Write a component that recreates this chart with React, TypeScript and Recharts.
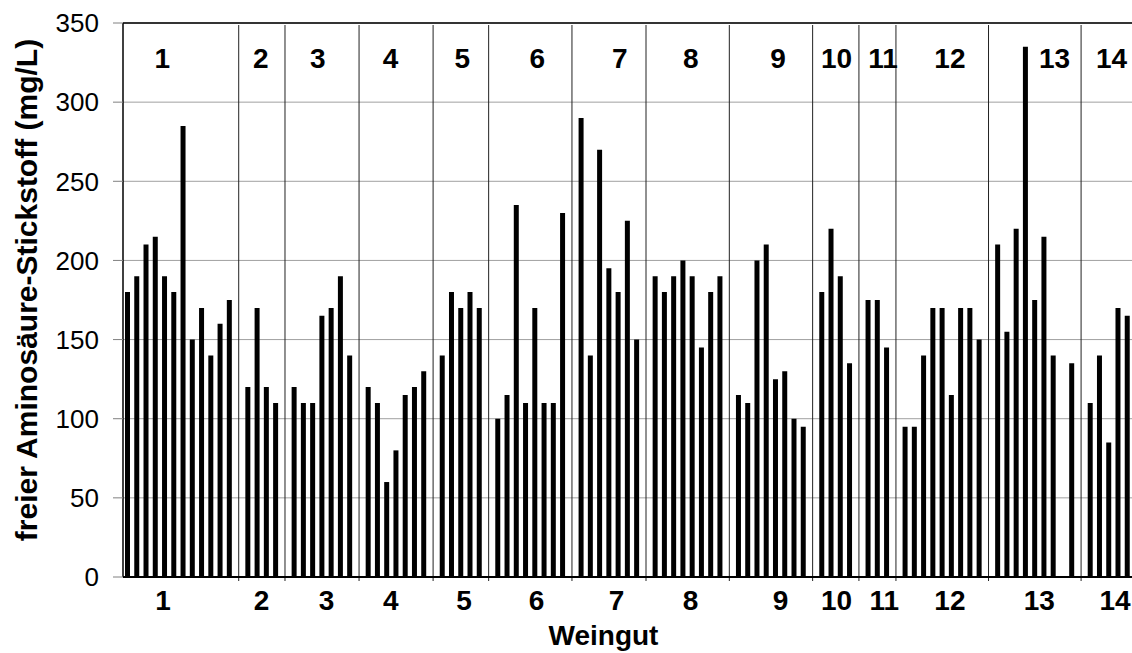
import React from 'react';
import { BarChart, Bar, XAxis, YAxis, CartesianGrid, ReferenceLine, Label } from 'recharts';

// Values per Weingut (free amino nitrogen, mg/L)
const weingut1 = [180, 190, 210, 215, 190, 180, 285, 150, 170, 140, 160, 175];
const weingut2 = [120, 170, 120, 110];
const weingut3 = [120, 110, 110, 165, 170, 190, 140];
const weingut4 = [120, 110, 60, 80, 115, 120, 130];
const weingut5 = [140, 180, 170, 180, 170];
const weingut6 = [100, 115, 235, 110, 170, 110, 110, 230];
const weingut7 = [290, 140, 270, 195, 180, 225, 150];
const weingut8 = [190, 180, 190, 200, 190, 145, 180, 190];
const weingut9 = [115, 110, 200, 210, 125, 130, 100, 95];
const weingut10 = [180, 220, 190, 135];
const weingut11 = [175, 175, 145];
const weingut12 = [95, 95, 140, 170, 170, 115, 170, 170, 150];
const weingut13: (number | null)[] = [210, 155, 220, 335, 175, 215, 140, null, 135];
const weingut14 = [110, 140, 85, 170, 165];

const groups: (number | null)[][] = [
  weingut1, weingut2, weingut3, weingut4, weingut5, weingut6, weingut7,
  weingut8, weingut9, weingut10, weingut11, weingut12, weingut13, weingut14,
];
const groupLabels = ['1', '2', '3', '4', '5', '6', '7', '8', '9', '10', '11', '12', '13', '14'];

// label positions on the slot axis (slot index units)
const bottomLabelPos = [3.82, 14.46, 21.48, 28.43, 36.35, 44.17, 52.82, 60.81, 70.54, 76.59, 81.74, 88.83, 98.48, 106.66];
const topLabelPos = [3.74, 14.38, 20.54, 28.4, 36.15, 44.26, 53.17, 60.85, 70.25, 76.59, 81.6, 88.83, 100.13, 106.3];
const yTicks = [0, 50, 100, 150, 200, 250, 300, 350];

const data: { idx: number; value: number | null }[] = [];
const separators: number[] = [];
{
  let idx = 0;
  groups.forEach((g, gi) => {
    g.forEach((v) => {
      data.push({ idx, value: v });
      idx++;
    });
    if (gi < groups.length - 1) {
      separators.push(idx);
      idx++;
    }
  });
}
const lastIdx = data[data.length - 1].idx;

const FONT = 'Liberation Sans, Arial, Helvetica, sans-serif';

const BottomTick = (props: any) => {
  const { x, y, index } = props;
  return (
    <text x={x} y={y + 33} textAnchor="middle" fontFamily={FONT} fontSize={28} fontWeight="bold" fill="#000">
      {groupLabels[index]}
    </text>
  );
};

const SepLine = (props: any) => {
  const { x1, x2, y1, y2 } = props;
  const top = Math.min(y1, y2);
  const bot = Math.max(y1, y2);
  return <line x1={x1} x2={x2} y1={top + 2} y2={bot + 4} stroke="#222" strokeWidth={1} />;
};

export default function App() {
  return (
    <div style={{ position: 'absolute', left: 0, top: 0, background: '#fff' }}>
      <BarChart width={1132} height={653} data={data} margin={{ top: 23, right: 0, bottom: 0, left: 0 }}>
        <CartesianGrid horizontal vertical={false} stroke="#a0a0a0" strokeWidth={1} />
        <XAxis
          type="number"
          dataKey="idx"
          domain={[-0.5, lastIdx + 0.5]}
          ticks={bottomLabelPos}
          interval={0}
          tickLine={false}
          tickSize={0}
          tickMargin={0}
          height={76}
          axisLine={{ stroke: '#000', strokeWidth: 2 }}
          tick={<BottomTick />}
        >
          <Label
            content={(p: any) => {
              const vb = p.viewBox;
              return (
                <text x={vb.x + vb.width / 2 - 24} y={vb.y + 68} textAnchor="middle" fontFamily={FONT} fontSize={28} fontWeight="bold" fill="#000">
                  Weingut
                </text>
              );
            }}
          />
        </XAxis>
        <YAxis
          type="number"
          domain={[0, 350]}
          ticks={yTicks}
          interval={0}
          width={123}
          tickSize={10}
          tickMargin={14}
          tickLine={{ stroke: '#808080' }}
          axisLine={{ stroke: '#000', strokeWidth: 1.5 }}
          tick={{ fontFamily: FONT, fontSize: 26, fill: '#000' }}
        >
          <Label
            content={(p: any) => {
              const vb = p.viewBox;
              const cx = vb.x + 37;
              const cy = vb.y + vb.height / 2 - 10;
              return (
                <text x={cx} y={cy} transform={`rotate(-90 ${cx} ${cy})`} textAnchor="middle" fontFamily={FONT} fontSize={30} fontWeight="bold" fill="#000">
                  freier Aminosäure-Stickstoff (mg/L)
                </text>
              );
            }}
          />
        </YAxis>
        <ReferenceLine y={350} stroke="#000" strokeWidth={1.5} />
        {separators.map((s) => (
          <ReferenceLine key={'sep' + s} x={s} shape={<SepLine />} />
        ))}
        {topLabelPos.map((p, i) => (
          <ReferenceLine
            key={'top' + i}
            x={p}
            stroke="none"
            label={{ value: groupLabels[i], position: 'insideTop', offset: 25, fontSize: 28, fontWeight: 'bold', fill: '#000', fontFamily: FONT }}
          />
        ))}
        <Bar dataKey="value" fill="#000" barSize={5} isAnimationActive={false} />
      </BarChart>
    </div>
  );
}
